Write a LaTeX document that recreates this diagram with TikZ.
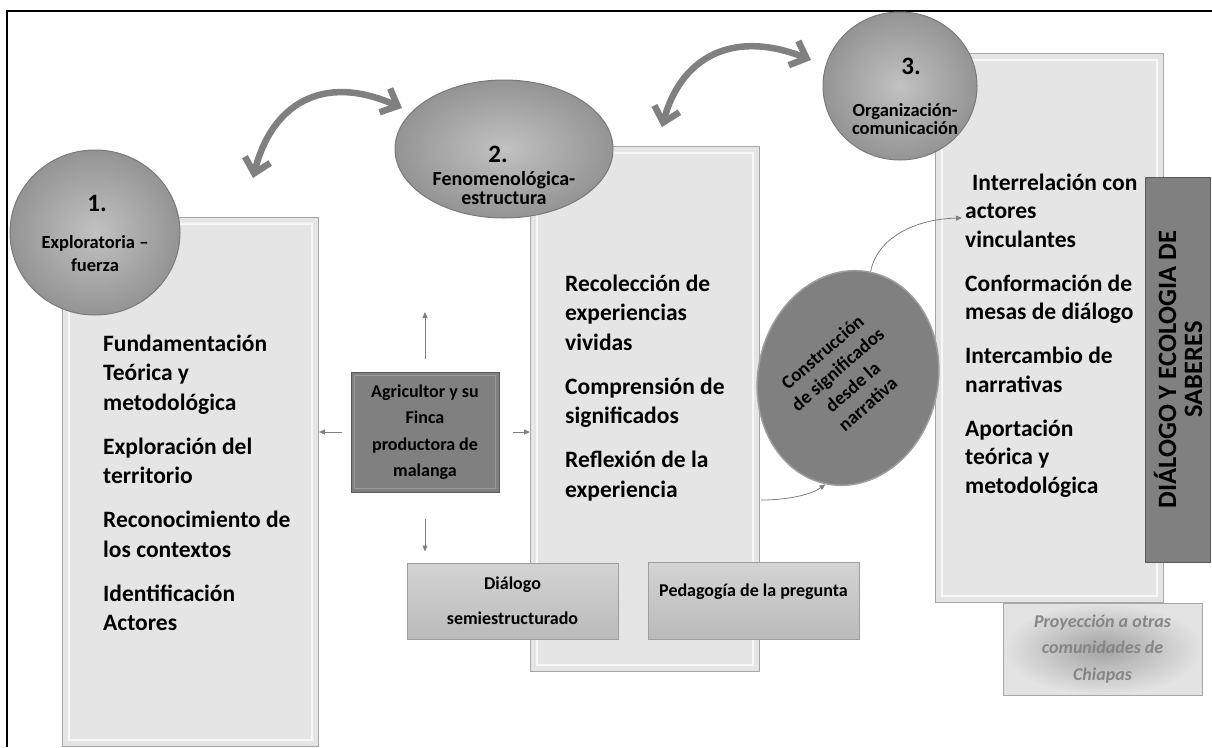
\documentclass[tikz,border=0pt]{standalone}
\usepackage{fontspec}
\setmainfont{Carlito}
\usetikzlibrary{shapes.geometric,arrows.meta}
\begin{document}
\begin{tikzpicture}[x=1pt,y=-1pt,
 panel/.style={draw=black!35, fill=black!10, line width=1pt, rectangle, inner sep=0pt, anchor=north west},
 bevel/.style={draw=white, line width=1.5pt, opacity=0.7},
 bubble/.style={ellipse, draw=black!52, line width=1pt, shading=radial, inner color=black!24, outer color=black!42, inner sep=0pt},
 boxtext/.style={font=\fontsize{23.5}{29.5}\selectfont\bfseries, align=left, inner sep=0pt, anchor=north west},
 numtext/.style={font=\fontsize{25}{27}\selectfont\bfseries, inner sep=0pt},
 bubtext/.style={font=\fontsize{18.5}{20}\selectfont\bfseries, align=center, inner sep=0pt},
 darkbox/.style={rectangle, draw=black!65, fill=black!50, line width=1pt, inner sep=0pt},
 lightbox/.style={rectangle, draw=black!38, top color=black!17, bottom color=black!27, line width=1pt, inner sep=0pt},
 smalltext/.style={font=\fontsize{18}{26.5}\selectfont\bfseries, align=center},
 thinarrow/.style={draw=black!50, line width=1pt, -{Triangle[length=6pt,width=5pt]}},
 bigarrow/.style={draw=black!50, line width=6.5pt, {Straight Barb[length=14pt,width=26pt]}-{Straight Barb[length=14pt,width=26pt]}},
]
\useasboundingbox (0,0) rectangle (1212,747);
\fill[white] (0,0) rectangle (1212,747);
% frame
\draw[line width=2.5pt] (7,747) -- (7,11) -- (1212,11);

% panels
\node[panel, minimum width=256pt, minimum height=529pt] (p1) at (62,217) {};
\draw[bevel] ([shift={(7,7)}]p1.north west) rectangle ([shift={(-7,-7)}]p1.south east);
\node[panel, minimum width=229pt, minimum height=525pt] (p2) at (530,146) {};
\draw[bevel] ([shift={(7,7)}]p2.north west) rectangle ([shift={(-7,-7)}]p2.south east);
\node[panel, minimum width=228pt, minimum height=549pt] (p3) at (935,53) {};
\draw[bevel] ([shift={(7,7)}]p3.north west) rectangle ([shift={(-7,-7)}]p3.south east);

% panel texts
\node[boxtext] (t1) at (103,330.4) {\strut Fundamentación\\Teórica y\\metodológica\\[14.5pt]Exploración del\\territorio\\[14.5pt]Reconocimiento de\\los contextos\\[14.5pt]Identificación\\Actores};
\node[boxtext] (t2) at (565,270.4) {\strut Recolección de\\experiencias\\vividas\\[14.5pt]Comprensión de\\significados\\[14.5pt]Reflexión de la\\experiencia};
\node[boxtext, font=\fontsize{23.5}{28.5}\selectfont\bfseries] (t3) at (965,170) {\strut\hspace{7pt}Interrelación con\\actores\\vinculantes\\[15.5pt]Conformación de\\mesas de diálogo\\[15.5pt]Intercambio de\\narrativas\\[15.5pt]Aportación\\teórica y\\metodológica};

% side vertical box
\node[darkbox, minimum width=65pt, minimum height=385pt] (dyes) at (1177.5,369.5) {};
\node[rotate=90, font=\fontsize{26.5}{26}\selectfont\bfseries, align=center] (dyest) at (1178,369.5) {DIÁLOGO Y ECOLOGIA DE\\SABERES};

% bottom boxes
\node[lightbox, minimum width=211pt, minimum height=76pt, font=\fontsize{18}{35}\selectfont\bfseries, align=center] (dia) at (512.5,601) {Diálogo\\semiestructurado};
\node[lightbox, minimum width=211pt, minimum height=77pt] (ped) at (753.5,600.5) {};
\node[font=\fontsize{18}{22}\selectfont\bfseries] (pedt) at (753.5,592) {Pedagogía de la pregunta};
\node[rectangle, draw=black!35, line width=1pt, shading=radial, inner color=black!36, outer color=black!11, minimum width=199pt, minimum height=92pt, font=\fontsize{18}{26.5}\selectfont\bfseries\itshape, text=black!48, align=center] (proy) at (1102.5,649) {Proyección a otras\\comunidades de\\Chiapas};

% central box
\node[darkbox, minimum width=148pt, minimum height=120pt, smalltext] (agr) at (425,432) {Agricultor y su\\Finca\\productora de\\malanga};
\draw[draw=black!40, line width=1.5pt] ([shift={(4,4)}]agr.north west) rectangle ([shift={(-4,-4)}]agr.south east);

% ellipse
\node[ellipse, fill=black!50, draw=black!38, line width=1.5pt, minimum width=180pt, minimum height=216pt, rotate=-12, inner sep=0pt] (cons) at (848,378) {};
\node[rotate=41, font=\fontsize{19}{23}\selectfont\bfseries, align=center] (const) at (845,378) {Construcción\\de significados\\desde la\\narrativa};

% bubbles
\node[bubble, minimum width=170pt, minimum height=165pt] (c1) at (95,232.5) {};
\node[numtext] (c1n) at (97,203) {1.};
\node[bubtext, font=\fontsize{18.5}{23}\selectfont\bfseries] (c1l) at (95,253.5) {Exploratoria –\\fuerza};
\node[bubble, minimum width=218pt, minimum height=138pt] (c2) at (504,149) {};
\node[numtext] (c2n) at (498,154) {2.};
\node[bubtext, font=\fontsize{20}{19}\selectfont\bfseries] (c2l) at (504,188) {Fenomenológica-\\estructura};
\node[bubble, minimum width=154pt, minimum height=148pt] (c3) at (900,86) {};
\node[numtext] (c3n) at (911,66) {3.};
\node[bubtext, font=\fontsize{18.5}{18}\selectfont\bfseries] (c3l) at (905,119) {Organización-\\comunicación};

% thin arrows around central box
\coordinate (upE) at (425,312);
\draw[thinarrow, shorten <=13pt] (agr.north) -- (upE);
\draw[thinarrow, shorten <=9pt] (agr.west) -- (p1.east |- agr.west);
\draw[thinarrow, shorten <=13pt] (agr.east) -- (p2.west |- agr.east);
\draw[thinarrow, shorten <=26pt, shorten >=11pt] (agr.south) -- (dia.north -| agr.south);

% curved thin connectors
\coordinate (k1) at (761,500);
\draw[thinarrow, line width=0.8pt] (k1) .. controls (790,500) and (812,494) .. (cons.south);
\coordinate (k2) at (962,218);
\draw[thinarrow, line width=0.8pt] (cons.north) .. controls (877,238) and (915,219) .. (k2);

% big double arrows
\coordinate (a1s) at (253,178); \coordinate (a1e) at (402,108);
\draw[bigarrow] (a1s) .. controls (271,106) and (321,72) .. (a1e);
\coordinate (a2s) at (662,127); \coordinate (a2e) at (811,60);
\draw[bigarrow] (a2s) .. controls (680,60) and (730,28) .. (a2e);
\end{tikzpicture}
\end{document}
